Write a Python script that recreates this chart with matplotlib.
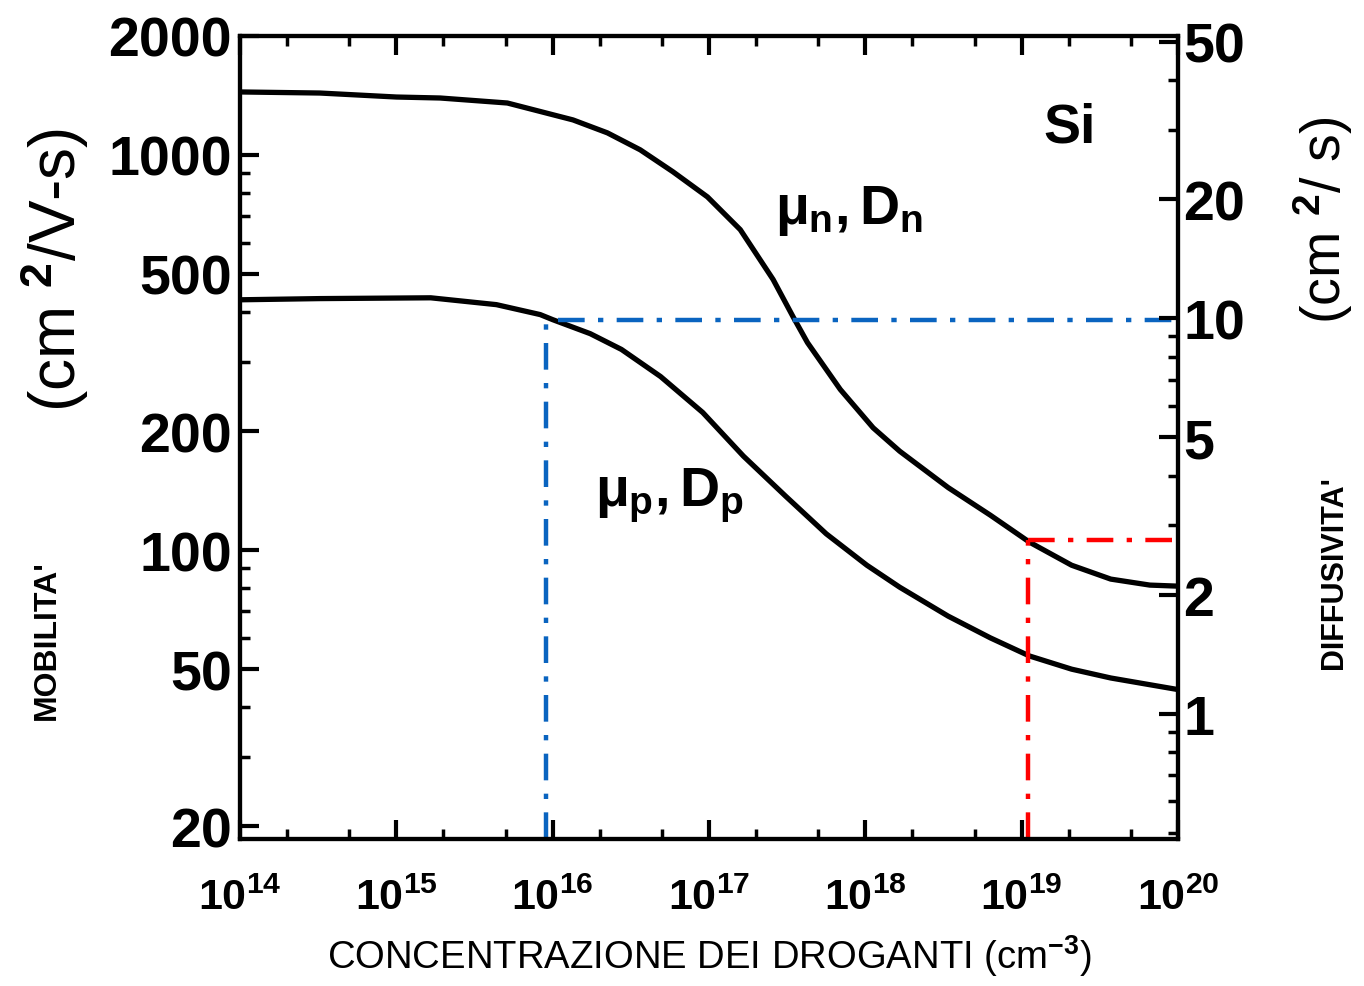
import numpy as np
import matplotlib.pyplot as plt
from matplotlib import font_manager as fm
from matplotlib.ticker import LogLocator, NullFormatter, FixedLocator

# pick a condensed font if there is one
try:
    fm.findfont('Liberation Sans Narrow', fallback_to_default=False)
    FONT = 'Liberation Sans Narrow'
except ValueError:
    FONT = 'Liberation Sans'

plt.rcParams['font.family'] = [FONT, 'DejaVu Sans']
plt.rcParams['mathtext.fontset'] = 'custom'
plt.rcParams['mathtext.rm'] = FONT + ':bold'
plt.rcParams['mathtext.it'] = FONT + ':bold'
plt.rcParams['mathtext.bf'] = FONT + ':bold'

# data (Si, 300 K)
log_conc_n = [14.0, 14.51, 15.00, 15.28, 15.71, 16.13, 16.35, 16.56, 16.77, 16.99,
              17.20, 17.41, 17.54, 17.63, 17.84, 18.05, 18.22, 18.53, 18.80, 19.05,
              19.32, 19.57, 19.82, 20.0]
mu_n = [1443, 1434, 1401, 1393, 1353, 1226, 1137, 1030, 906, 783,
        647, 484, 388, 335, 255, 204, 178, 144, 122.6, 104.8,
        91.6, 84.5, 81.6, 81.1]

log_conc_p = [14.0, 14.51, 15.22, 15.64, 15.92, 16.00, 16.24, 16.44, 16.69, 16.96,
              17.22, 17.49, 17.75, 18.01, 18.22, 18.53, 18.80, 19.05, 19.32, 19.57,
              20.0]
mu_p = [430, 433, 435, 418, 394.5, 383, 353, 322, 275, 223,
        173, 137, 110, 91.6, 80.6, 68.1, 60.0, 54.0, 50.0, 47.5,
        44.4]

KT_Q = 0.0259  # D = mu * kT/q

# guide lines: (concentration, mobility)
blue_conc = 9e15
blue_mu = 383
red_conc = 1.1e19
red_mu = 106

x_ticks = [1e14, 1e15, 1e16, 1e17, 1e18, 1e19, 1e20]
x_labels = [r'$\mathbf{10^{%d}}$' % e for e in range(14, 21)]
mu_ticks = [20, 50, 100, 200, 500, 1000, 2000]
d_ticks = [1, 2, 5, 10, 20, 50]

fig = plt.figure(figsize=(13.64, 9.87), dpi=100)
ax = fig.add_axes([0.176, 0.149, 0.6876, 0.8136])

ax.plot(10 ** np.array(log_conc_n), mu_n, color='black', lw=3.8,
        solid_capstyle='round', solid_joinstyle='round')
ax.plot(10 ** np.array(log_conc_p), mu_p, color='black', lw=3.8,
        solid_capstyle='round', solid_joinstyle='round')

ymin, ymax = 18.6, 2000
ax.set_xscale('log')
ax.set_yscale('log')
ax.set_xlim(1e14, 1e20)
ax.set_ylim(ymin, ymax)

# dash-dot guides
dd = (0, (6, 3, 1.2, 3))
ax.plot([blue_conc, blue_conc], [ymin, blue_mu], color='#0a64c0', lw=3.2, linestyle=dd)
ax.plot([1.08e16, 1e20], [blue_mu, blue_mu], color='#0a64c0', lw=3.2, linestyle=dd)
ax.plot([red_conc, red_conc], [ymin, red_mu], color='#ff0000', lw=3.2, linestyle=dd)
ax.plot([red_conc, 1.1e20], [red_mu, red_mu], color='#ff0000', lw=3.2,
        linestyle=dd, clip_on=False)

for s in ax.spines.values():
    s.set_linewidth(3)

ax.xaxis.set_major_locator(FixedLocator(x_ticks))
ax.set_xticklabels(x_labels, fontsize=31)
ax.xaxis.set_minor_locator(LogLocator(base=10, subs=(2, 5), numticks=20))
ax.xaxis.set_minor_formatter(NullFormatter())
ax.yaxis.set_major_locator(FixedLocator(mu_ticks))
ax.set_yticklabels([str(v) for v in mu_ticks], fontsize=40, fontweight='bold')
ax.yaxis.set_minor_locator(LogLocator(base=10, subs=np.arange(2, 10), numticks=20))
ax.yaxis.set_minor_formatter(NullFormatter())
ax.tick_params(axis='both', which='major', direction='in', length=14, width=3,
               top=True, right=False)
ax.tick_params(axis='both', which='minor', direction='in', length=7, width=2.5,
               top=True, right=False)
ax.tick_params(axis='x', which='major', pad=28)
ax.tick_params(axis='y', which='major', pad=6)

ax2 = ax.twinx()
ax2.set_yscale('log')
ax2.set_ylim(ymin * KT_Q, ymax * KT_Q)
ax2.yaxis.set_major_locator(FixedLocator(d_ticks))
ax2.set_yticklabels([str(v) for v in d_ticks], fontsize=40, fontweight='bold')
ax2.yaxis.set_minor_locator(LogLocator(base=10, subs=np.arange(2, 10), numticks=20))
ax2.yaxis.set_minor_formatter(NullFormatter())
ax2.tick_params(axis='y', which='major', direction='in', length=14, width=3, pad=4)
ax2.tick_params(axis='y', which='minor', direction='in', length=7, width=2.5)
for s in ax2.spines.values():
    s.set_linewidth(3)

# curve labels
ax.text(10 ** 17.42, 726, r'$\mu_n, D_n$', fontsize=40, ha='left', va='center')
ax.text(10 ** 16.27, 138, r'$\mu_p, D_p$', fontsize=40, ha='left', va='center')
ax.text(10 ** 19.31, 1170, 'Si', fontsize=40, fontweight='bold', ha='center', va='center')

ax.set_xlabel('CONCENTRAZIONE DEI DROGANTI (cm$^{\\mathrm{-3}}$)', fontsize=27.5,
              labelpad=10)

# axis titles as in the scan
fig.text(0.034, 0.352, "MOBILITA'", rotation=90, fontsize=23, fontweight='bold',
         ha='center', va='center')
fig.text(0.040, 0.727, r'(cm $^{2}$/V-s)', rotation=90, fontsize=46,
         ha='center', va='center')
fig.text(0.978, 0.420, "DIFFUSIVITA'", rotation=90, fontsize=22, fontweight='bold',
         ha='center', va='center')
fig.text(0.970, 0.777, r'(cm $^{2}$/ s)', rotation=90, fontsize=40,
         ha='center', va='center')

fig.savefig('out.png', dpi=100, facecolor='white')
